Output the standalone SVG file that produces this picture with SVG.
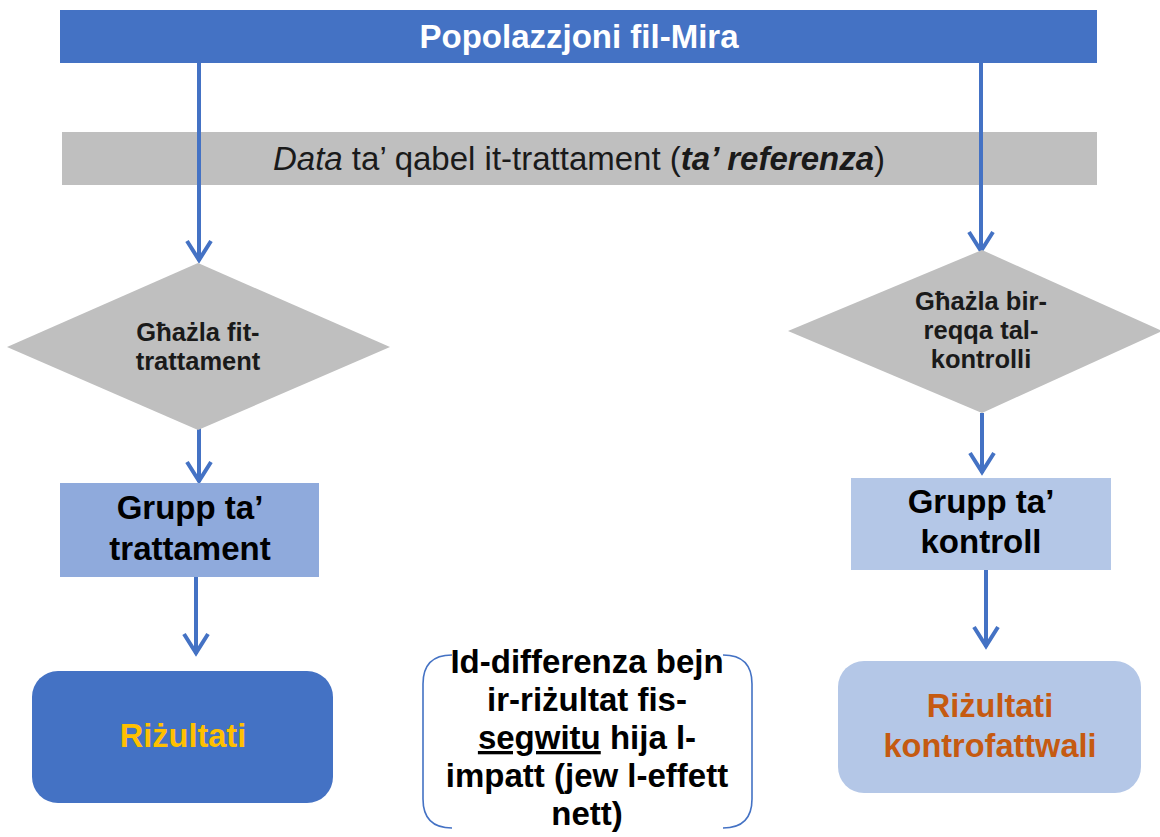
<svg xmlns="http://www.w3.org/2000/svg" width="1160" height="837" viewBox="0 0 1160 837">
  <defs>
    <style>
      text { font-family: "Liberation Sans", Arial, sans-serif; text-anchor: middle; }
      .title { font-size: 33px; font-weight: bold; fill: #ffffff; }
      .ref { font-size: 33px; fill: #1a1a1a; }
      .dia { font-size: 25.5px; font-weight: bold; fill: #1a1a1a; }
      .grp { font-size: 33px; font-weight: bold; fill: #000000; }
      .res { font-size: 32.5px; font-weight: bold; }
      .mid { font-size: 33px; font-weight: bold; fill: #000000; }
      .conn { stroke: #4472C4; stroke-width: 4; fill: none; marker-end: url(#chev); }
      .bracket { stroke: #4472C4; stroke-width: 1.6; fill: none; }
    </style>
    <marker id="chev" markerUnits="userSpaceOnUse" viewBox="-30 -20 40 40" markerWidth="40" markerHeight="40" refX="0" refY="0" orient="auto">
      <path d="M -20,-12 L -1,0 L -20,12" fill="none" stroke="#4472C4" stroke-width="4" stroke-linejoin="miter"/>
    </marker>
  </defs>

  <g id="populazzjoni">
    <rect x="60" y="10" width="1037" height="53" fill="#4472C4"/>
    <text class="title" x="579" y="48">Popolazzjoni fil-Mira</text>
  </g>

  <g id="data-referenza">
    <rect x="62" y="132" width="1035" height="53" fill="#BFBFBF"/>
    <text class="ref" x="579" y="170"><tspan font-style="italic">Data</tspan> ta’ qabel it-trattament (<tspan font-style="italic" font-weight="bold">ta’ referenza</tspan>)</text>
  </g>

  <g id="connectors">
    <line class="conn" x1="199" y1="63" x2="199" y2="261"/>
    <line class="conn" x1="199" y1="428" x2="199" y2="482"/>
    <line class="conn" x1="196" y1="577" x2="196" y2="654"/>
    <line class="conn" x1="981" y1="63" x2="981" y2="252"/>
    <line class="conn" x1="982" y1="413" x2="982" y2="473"/>
    <line class="conn" x1="986" y1="570" x2="986" y2="647"/>
  </g>

  <g id="ghazla-trattament">
    <polygon points="198,263 390,347 198,430 7,347" fill="#BFBFBF"/>
    <text class="dia" x="198" y="341">Għażla fit-</text>
    <text class="dia" x="198" y="370">trattament</text>
  </g>

  <g id="ghazla-kontroll">
    <polygon points="982,250 1162,331 982,413 788,331" fill="#BFBFBF"/>
    <text class="dia" x="981" y="310">Għażla bir-</text>
    <text class="dia" x="981" y="339">reqqa tal-</text>
    <text class="dia" x="981" y="368">kontrolli</text>
  </g>

  <g id="grupp-trattament">
    <rect x="60" y="483" width="259" height="94" fill="#8FAADC"/>
    <text class="grp" x="190" y="519">Grupp ta’</text>
    <text class="grp" x="190" y="560">trattament</text>
  </g>

  <g id="grupp-kontroll">
    <rect x="851" y="478" width="260" height="92" fill="#B4C7E7"/>
    <text class="grp" x="981" y="513">Grupp ta’</text>
    <text class="grp" x="981" y="553">kontroll</text>
  </g>

  <g id="rizultati">
    <rect x="32" y="671" width="301" height="132" rx="26" ry="26" fill="#4472C4"/>
    <text class="res" x="183" y="747" fill="#FFC000">Riżultati</text>
  </g>

  <g id="rizultati-kontrofattwali">
    <rect x="838" y="661" width="303" height="132" rx="26" ry="26" fill="#B4C7E7"/>
    <text class="res" x="990" y="717" fill="#C55A11">Riżultati</text>
    <text class="res" x="990" y="757" fill="#C55A11">kontrofattwali</text>
  </g>

  <g id="differenza">
    <path class="bracket" d="M 452,655 Q 423,655 423,684 L 423,799 Q 423,828 452,828"/>
    <path class="bracket" d="M 723,655 Q 752,655 752,684 L 752,799 Q 752,828 723,828"/>
    <text class="mid" x="587" y="673">Id-differenza bejn</text>
    <text class="mid" x="587" y="711">ir-riżultat fis-</text>
    <text class="mid" x="587" y="749"><tspan text-decoration="underline">segwitu</tspan> hija l-</text>
    <text class="mid" x="587" y="787">impatt (jew l-effett</text>
    <text class="mid" x="587" y="825">nett)</text>
  </g>
</svg>
